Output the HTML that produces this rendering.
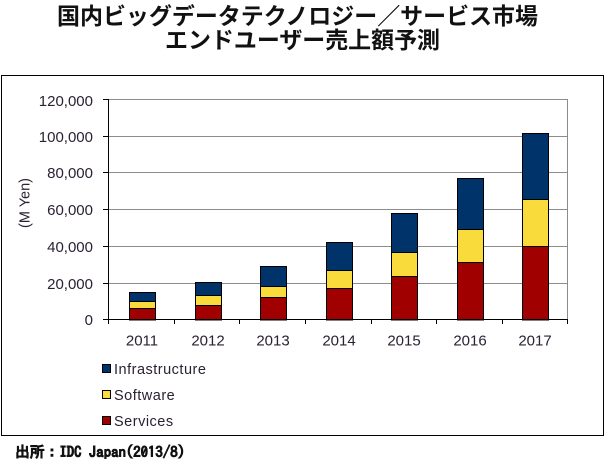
<!DOCTYPE html>
<html><head><meta charset="utf-8"><style>
html,body{margin:0;padding:0;background:#fff;}
svg{display:block;}
</style></head><body>
<svg width="605" height="462" viewBox="0 0 605 462" xmlns="http://www.w3.org/2000/svg">
<rect width="605" height="462" fill="#fff"/>
<!-- title -->
<g font-family="'Liberation Sans','Noto Sans CJK JP',sans-serif" font-weight="bold" font-size="23" fill="#111" text-anchor="middle">
<text x="297.5" y="24" textLength="481" lengthAdjust="spacingAndGlyphs">国内ビッグデータテクノロジー／サービス市場</text>
<text x="302.5" y="48" textLength="275" lengthAdjust="spacingAndGlyphs">エンドユーザー売上額予測</text>
</g>
<!-- frame -->
<rect x="1.5" y="75.5" width="602" height="360" fill="none" stroke="#000" stroke-width="1"/>
<!-- gridlines -->
<g stroke="#8c8c8c" stroke-width="1">
<line x1="108" y1="99.5" x2="568" y2="99.5"/>
<line x1="108" y1="136.5" x2="568" y2="136.5"/>
<line x1="108" y1="172.5" x2="568" y2="172.5"/>
<line x1="108" y1="209.5" x2="568" y2="209.5"/>
<line x1="108" y1="246.5" x2="568" y2="246.5"/>
<line x1="108" y1="283.5" x2="568" y2="283.5"/>
<line x1="567.5" y1="99" x2="567.5" y2="320"/>
</g>
<!-- bars -->
<g stroke="#000" stroke-width="1">
<rect x="129.5" y="308.5" width="26" height="11.5" fill="#a00000"/>
<rect x="129.5" y="301.5" width="26" height="7" fill="#f9dc3c"/>
<rect x="129.5" y="292.5" width="26" height="9" fill="#00336a"/>
<rect x="195.5" y="305.5" width="26" height="14.5" fill="#a00000"/>
<rect x="195.5" y="295.5" width="26" height="10" fill="#f9dc3c"/>
<rect x="195.5" y="282.5" width="26" height="13" fill="#00336a"/>
<rect x="260.5" y="297.5" width="26" height="22.5" fill="#a00000"/>
<rect x="260.5" y="286.5" width="26" height="11" fill="#f9dc3c"/>
<rect x="260.5" y="266.5" width="26" height="20" fill="#00336a"/>
<rect x="326.5" y="288.5" width="26" height="31.5" fill="#a00000"/>
<rect x="326.5" y="270.5" width="26" height="18" fill="#f9dc3c"/>
<rect x="326.5" y="242.5" width="26" height="28" fill="#00336a"/>
<rect x="391.5" y="276.5" width="26" height="43.5" fill="#a00000"/>
<rect x="391.5" y="252.5" width="26" height="24" fill="#f9dc3c"/>
<rect x="391.5" y="213.5" width="26" height="39" fill="#00336a"/>
<rect x="457.5" y="262.5" width="26" height="57.5" fill="#a00000"/>
<rect x="457.5" y="229.5" width="26" height="33" fill="#f9dc3c"/>
<rect x="457.5" y="178.5" width="26" height="51" fill="#00336a"/>
<rect x="522.5" y="246.5" width="26" height="73.5" fill="#a00000"/>
<rect x="522.5" y="199.5" width="26" height="47" fill="#f9dc3c"/>
<rect x="522.5" y="133.5" width="26" height="66" fill="#00336a"/>
</g>
<!-- axes -->
<g stroke="#000" stroke-width="1">
<line x1="108.5" y1="99" x2="108.5" y2="320"/>
<line x1="108" y1="319.5" x2="568" y2="319.5"/>
<line x1="103" y1="99.5" x2="108" y2="99.5"/>
<line x1="103" y1="136.5" x2="108" y2="136.5"/>
<line x1="103" y1="172.5" x2="108" y2="172.5"/>
<line x1="103" y1="209.5" x2="108" y2="209.5"/>
<line x1="103" y1="246.5" x2="108" y2="246.5"/>
<line x1="103" y1="283.5" x2="108" y2="283.5"/>
<line x1="103" y1="319.5" x2="108" y2="319.5"/>
<line x1="108.5" y1="320" x2="108.5" y2="324"/>
<line x1="174.5" y1="320" x2="174.5" y2="324"/>
<line x1="239.5" y1="320" x2="239.5" y2="324"/>
<line x1="305.5" y1="320" x2="305.5" y2="324"/>
<line x1="371.5" y1="320" x2="371.5" y2="324"/>
<line x1="436.5" y1="320" x2="436.5" y2="324"/>
<line x1="502.5" y1="320" x2="502.5" y2="324"/>
<line x1="567.5" y1="320" x2="567.5" y2="324"/>
</g>
<!-- y labels -->
<g font-family="'Liberation Sans',sans-serif" font-size="15" fill="#2a2233" text-anchor="end">
<text x="93" y="106">120,000</text>
<text x="93" y="142">100,000</text>
<text x="93" y="178">80,000</text>
<text x="93" y="215">60,000</text>
<text x="93" y="252">40,000</text>
<text x="93" y="289">20,000</text>
<text x="93" y="325">0</text>
</g>
<text transform="translate(29.5,203) rotate(-90)" font-family="'Liberation Sans',sans-serif" font-size="14.5" fill="#2a2233" text-anchor="middle">(M Yen)</text>
<!-- x labels -->
<g font-family="'Liberation Sans',sans-serif" font-size="15" fill="#2a2233" text-anchor="middle">
<text x="142" y="345.5">2011</text>
<text x="208" y="345.5">2012</text>
<text x="273" y="345.5">2013</text>
<text x="339" y="345.5">2014</text>
<text x="404" y="345.5">2015</text>
<text x="470" y="345.5">2016</text>
<text x="535" y="345.5">2017</text>
</g>
<!-- legend -->
<g stroke="#000" stroke-width="1">
<rect x="102.5" y="364.5" width="8" height="8" fill="#00336a"/>
<rect x="102.5" y="390.5" width="8" height="8" fill="#f9dc3c"/>
<rect x="102.5" y="416.5" width="8" height="8" fill="#a00000"/>
</g>
<g font-family="'Liberation Sans',sans-serif" font-size="14.5" fill="#2a2233" letter-spacing="0.5">
<text x="114" y="374">Infrastructure</text>
<text x="114" y="400">Software</text>
<text x="114" y="426">Services</text>
</g>
<!-- source -->
<text x="15" y="457" font-family="'IPAGothic','Noto Sans CJK JP',sans-serif" font-weight="bold" font-size="15" fill="#111" stroke="#111" stroke-width="0.5" textLength="170" lengthAdjust="spacingAndGlyphs">出所：IDC Japan(2013/8)</text>
</svg>
</body></html>
